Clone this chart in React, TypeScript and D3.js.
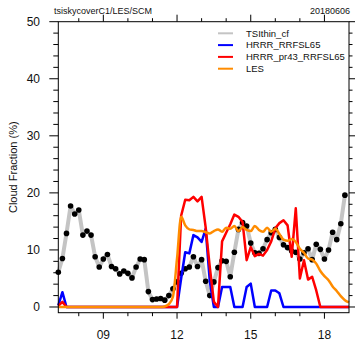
import React from "react";
import * as d3 from "d3";

const startHour = 7 + 10 / 60;
const stepHour = 1 / 6;

const tsiValues = [
  6.1, 8.5, 12.9, 17.7, 16.3, 17.0, 12.6, 13.3, 12.6, 8.8,
  7.0, 8.4, 9.2, 7.1, 6.7, 5.8, 6.3, 5.9, 5.1, 7.0,
  8.4, 8.3, 2.7, 1.3, 1.4, 1.5, 1.2, 2.0, 3.2, 4.4,
  5.9, 6.7, 7.0, 8.8, 7.1, 8.3, 4.5, 2.0, 4.4, 6.9,
  8.1, 8.0, 5.3, 9.6, 13.6, 14.8, 14.2, 11.2, 9.5, 9.4,
  10.2, 11.8, 13.0, 13.6, 12.2, 10.9, 10.4, 9.8, 9.6, 8.4,
  9.5, 10.2, 8.3, 11.0, 10.1, 8.4, 10.0, 13.1, 11.8, 14.6,
  19.6,
];

const hrrrValues = [
  0.3, 2.6, 0, 0, 0, 0, 0, 0, 0, 0,
  0, 0, 0, 0, 0, 0, 0, 0, 0, 0,
  0, 0, 0, 0, 0, 0, 0, 0, 0, 0,
  5.0, 9.6, 9.4, 12.6, 12.2, 11.4, 13.7, 4.5, 0, 0,
  3.5, 3.5, 3.5, 0, 0, 0, 3.5, 4.1, 0, 0,
  0, 0, 2.9, 2.9, 2.4, 0, 0, 0, 0, 0,
  0, 0, 0, 0, 0, 0, 0, 0, 0, 0,
  0, 0,
];

const pr43Values = [
  0.2, 0.9, 0, 0, 0, 0, 0, 0, 0, 0,
  0, 0, 0, 0, 0, 0, 0, 0, 0, 0,
  0, 0, 0, 0, 0, 0, 0, 0, 0, 0,
  16.0, 18.8, 18.7, 19.3, 18.5, 19.3, 13.9, 7.0, 0.9, 0,
  11.5, 13.0, 14.5, 16.2, 15.8, 14.9, 8.2, 10.5, 8.9, 9.3,
  9.0, 10.0, 11.5, 13.8, 14.7, 15.2, 14.3, 8.8, 17.3, 5.0,
  8.2, 4.8, 5.3, 2.9, 0, 0, 0, 0, 0, 0,
  0, 0,
];

const lesValues = [
  0, 0, 0, 0, 0, 0, 0, 0, 0, 0,
  0, 0, 0, 0, 0, 0, 0, 0, 0, 0,
  0, 0, 0, 0, 0, 0, 0.1, 0.5, 1.8, 8.5,
  15.8, 14.3, 13.6, 13.5, 13.3, 13.3, 13.1, 12.9, 13.3, 13.6,
  13.2, 13.9, 13.7, 14.2, 13.3, 14.0, 13.5, 13.3, 14.2, 13.5,
  13.2, 13.9, 13.2, 13.7, 12.8, 11.8, 11.6, 11.9, 11.4, 10.2,
  9.5, 8.5, 8.3, 7.6, 6.3, 5.4, 4.7, 3.6, 2.8, 1.9,
  1.2, 0.8,
];

const xTickHours = [9, 12, 15, 18];
const xTickLabels = ["09", "12", "15", "18"];
const xMinorHours = [8, 10, 11, 13, 14, 16, 17];
const yTicks = [0, 10, 20, 30, 40, 50];

const legendItems = [
  { label: "TSIthin_cf", color: "#c4c4c4" },
  { label: "HRRR_RRFSL65", color: "#0000ff" },
  { label: "HRRR_pr43_RRFSL65", color: "#ff0000" },
  { label: "LES", color: "#ff8c00" },
];

const FONT = "'Liberation Sans', Arial, Helvetica, sans-serif";

export default function App() {
  const W = 357, H = 358;
  const left = 58.3, right = 349, top = 21.7, bottom = 312.7;
  const x = d3.scaleLinear().domain([startHour, 19]).range([left, right]);
  const y = d3.scaleLinear().domain([-1, 50]).range([bottom, top]);

  const hourAt = (i: number) => startHour + i * stepHour;
  const mk = (vals: number[], curve: any = d3.curveLinear) =>
    d3
      .line<number>()
      .x((_, i) => x(hourAt(i)))
      .y((v) => y(v))
      .curve(curve)(vals) || "";

  const yMinor = d3.range(0, 51, 2).filter((v) => v % 10 !== 0);

  return (
    <svg width={W} height={H} style={{ position: "absolute", left: 0, top: 0, background: "#fff" }}>
      <text x={54} y={14} fontFamily={FONT} fontSize={9} fill="#111">tsiskycoverC1/LES/SCM</text>
      <text x={350} y={14} fontFamily={FONT} fontSize={9} fill="#111" textAnchor="end">20180606</text>

      {/* data */}
      <path d={mk(tsiValues)} fill="none" stroke="#c4c4c4" strokeWidth={4} strokeLinejoin="round" />
      {tsiValues.map((v, i) => (
        <circle key={i} cx={x(hourAt(i))} cy={y(v)} r={2.8} fill="#000" />
      ))}
      <path d={mk(hrrrValues)} fill="none" stroke="#0000ff" strokeWidth={2.5} strokeLinejoin="round" />
      <path d={mk(pr43Values)} fill="none" stroke="#ff0000" strokeWidth={2.5} strokeLinejoin="round" />
      <path d={mk(lesValues, d3.curveMonotoneX)} fill="none" stroke="#ff8c00" strokeWidth={2.5} strokeLinejoin="round" />

      {/* frame */}
      <rect x={left} y={top} width={right - left} height={bottom - top} fill="none" stroke="#000" strokeWidth={1} />

      {/* x ticks */}
      {xTickHours.map((h, k) => (
        <g key={"xt" + k}>
          <line x1={x(h)} x2={x(h)} y1={bottom} y2={bottom + 6} stroke="#000" />
          <line x1={x(h)} x2={x(h)} y1={top} y2={top - 7} stroke="#000" />
          <text x={x(h)} y={339} fontFamily={FONT} fontSize={12} textAnchor="middle" fill="#111">{xTickLabels[k]}</text>
        </g>
      ))}
      {xMinorHours.map((h, k) => (
        <g key={"xm" + k}>
          <line x1={x(h)} x2={x(h)} y1={bottom} y2={bottom + 3.5} stroke="#000" />
          <line x1={x(h)} x2={x(h)} y1={top} y2={top - 3.5} stroke="#000" />
        </g>
      ))}

      {/* y ticks */}
      {yTicks.map((v) => (
        <g key={"yt" + v}>
          <line x1={left} x2={left - 9} y1={y(v)} y2={y(v)} stroke="#000" />
          <line x1={right} x2={right + 6} y1={y(v)} y2={y(v)} stroke="#000" />
          <text x={40} y={y(v) + 4.3} fontFamily={FONT} fontSize={12} textAnchor="end" fill="#111">{v}</text>
        </g>
      ))}
      {yMinor.map((v) => (
        <g key={"ym" + v}>
          <line x1={left} x2={left - 5} y1={y(v)} y2={y(v)} stroke="#000" />
          <line x1={right} x2={right + 3.5} y1={y(v)} y2={y(v)} stroke="#000" />
        </g>
      ))}

      <text
        transform={`translate(17,${(top + bottom) / 2}) rotate(-90)`}
        fontFamily={FONT}
        fontSize={11}
        textAnchor="middle"
        fill="#111"
      >
        Cloud Fraction (%)
      </text>

      {/* legend */}
      {legendItems.map((it, k) => (
        <g key={"lg" + k}>
          <line x1={218} x2={233} y1={33.3 + k * 11.8} y2={33.3 + k * 11.8} stroke={it.color} strokeWidth={2} />
          <text x={246} y={33.3 + k * 11.8 + 3.3} fontFamily={FONT} fontSize={9.5} fill="#111">{it.label}</text>
        </g>
      ))}
    </svg>
  );
}
